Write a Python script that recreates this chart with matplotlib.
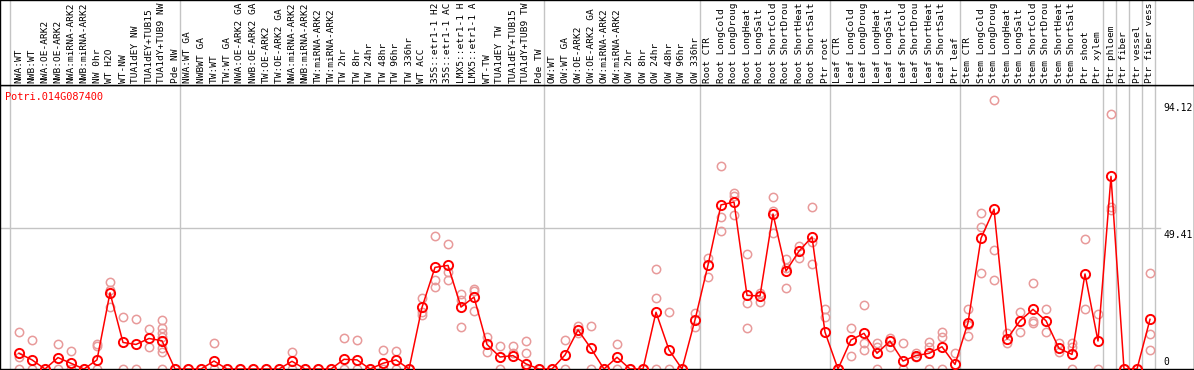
import matplotlib
matplotlib.use("Agg")
import matplotlib.pyplot as plt

title = "Potri.014G087400"

categories = [
    "NWA:WT", "NWB:WT", "NWA:OE-ARK2", "NWB:OE-ARK2", "NWA:miRNA-ARK2", "NWB:miRNA-ARK2",
    "NW 0hr", "WT H2O", "WT-NW", "TUA1dEY NW", "TUA1dEY+TUB15", "TUA1dY+TUB9 NW", "Pde NW",
    "NWA:WT GA", "NWBWT GA", "TW:WT", "TW:WT GA", "NWA:OE-ARK2 GA", "NWB:OE-ARK2 GA",
    "TW:OE-ARK2", "TW:OE-ARK2 GA", "NWA:miRNA-ARK2", "NWB:miRNA-ARK2", "TW:miRNA-ARK2",
    "TW:miRNA-ARK2", "TW 2hr", "TW 8hr", "TW 24hr", "TW 48hr", "TW 96hr", "TW 336hr",
    "WT ACC", "35S::etr1-1 H2O", "35S::etr1-1 ACC", "LMX5::etr1-1 H2O", "LMX5::etr1-1 ACC",
    "WT-TW", "TUA1dEY TW", "TUA1dEY+TUB15", "TUA1dY+TUB9 TW", "Pde TW",
    "OW:WT", "OW:WT GA", "OW:OE-ARK2", "OW:OE-ARK2 GA", "OW:miRNA-ARK2", "OW:miRNA-ARK2",
    "OW 2hr", "OW 8hr", "OW 24hr", "OW 48hr", "OW 96hr", "OW 336hr",
    "Root CTR", "Root LongCold", "Root LongDrought", "Root LongHeat", "Root LongSalt",
    "Root ShortCold", "Root ShortDrought", "Root ShortHeat", "Root ShortSalt", "Ptr root",
    "Leaf CTR", "Leaf LongCold", "Leaf LongDrought", "Leaf LongHeat", "Leaf LongSalt",
    "Leaf ShortCold", "Leaf ShortDrought", "Leaf ShortHeat", "Leaf ShortSalt", "Ptr leaf",
    "Stem CTR", "Stem LongCold", "Stem LongDrought", "Stem LongHeat", "Stem LongSalt",
    "Stem ShortCold", "Stem ShortDrought", "Stem ShortHeat", "Stem ShortSalt", "Ptr shoot",
    "Ptr xylem", "Ptr phloem", "Ptr fiber", "Ptr vessel", "Ptr fiber vessel",
]
label_max_chars = 14

# group sizes (vertical separators after each group)
group_sizes = [13, 28, 12, 10, 10, 11, 1, 1, 1, 1]

means = [
    5.5, 3.2, 0, 4.0, 2.0, 0, 3.2, 26.7, 9.3, 8.6, 10.7, 9.9, 0,
    0, 0, 2.8, 0, 0, 0, 0, 0, 2.7, 0, 0, 0, 3.4, 3.2, 0, 2.0, 3.2, 0,
    21.6, 35.6, 36.3, 21.7, 25.2, 8.6, 4.2, 4.7, 1.8, 0,
    0, 4.9, 13.7, 7.2, 0, 4.1, 0, 0, 19.9, 6.7, 0, 17.2,
    36.4, 57.5, 58.5, 25.8, 25.6, 54.3, 34.3, 41.3, 46.3, 12.9,
    0, 10.2, 12.5, 5.5, 9.8, 2.8, 4.7, 5.5, 7.8, 1.6,
    16.2, 45.8, 56.0, 10.5, 16.9, 20.9, 16.9, 7.2, 5.1, 33.3, 9.8,
    67.5, 0, 0, 17.4,
]

replicates = [
    [12.9, 4.3, 0], [10.2, 0], [0], [8.6, 0], [6.3, 0], [0], [8.7, 8.1, 0],
    [30.4, 27.7, 21.8], [18.1, 0], [17.4, 0], [13.9, 7.8],
    [17.2, 14.3, 12.5, 11.3, 7.5, 6.1, 0], [0],
    [0], [0], [9.0, 0], [0], [0], [0], [0], [0], [6.0, 0], [0], [0], [0],
    [10.9, 0], [10.0, 0], [0], [6.7, 0], [6.3, 0], [0],
    [24.8, 20.1, 18.9], [46.6, 31.2, 28.8], [43.7, 34.1, 31.2], [26.3, 24.2, 14.7],
    [28.0, 27.3, 20.3], [11.3, 6.1], [8.1, 0], [8.1, 5.5], [9.7, 5.5, 0], [0],
    [0], [10.0, 0], [15.2, 12.5], [15.1, 0], [0], [8.8, 0], [0], [0],
    [34.9, 24.8, 0], [19.9, 0], [0], [19.5, 14.8],
    [38.8, 32.1], [71.1, 53.2, 48.4], [61.6, 60.6, 54.0], [40.2, 23.0, 14.3],
    [26.7, 23.6], [60.2, 55.4, 47.5], [38.5, 35.5, 28.3], [43.1, 39.0],
    [56.7, 44.4, 36.7], [20.9, 18.3],
    [0], [14.3, 4.6], [22.4, 9.0, 6.7], [9.0, 7.8, 0], [10.7, 7.8], [9.0, 0],
    [5.5, 4.2], [9.6, 7.8, 0], [13.1, 11.1, 0], [5.7],
    [20.9, 15.4, 11.7], [54.6, 49.6, 33.5], [94.12, 41.6, 31.1], [12.5, 9.0],
    [19.9, 13.1], [30.1, 16.9, 16.0], [20.9, 12.8], [9.0, 6.1], [9.0, 7.8, 0],
    [45.4, 20.9], [19.2, 0],
    [89.2, 56.9, 55.7], [0], [0], [33.5, 12.2, 6.7],
]

ytick_values = [0, 49.41, 94.12]
ytick_labels = ["0", "49.41", "94.12"]

# ---------------------------------------------------------------
W, H = 1194, 370
fig = plt.figure(figsize=(W / 100, H / 100), dpi=100)

# pixel geometry
step = 13.0
x0_px = 19.0
label_bottom_px = 85.0
plot_bottom_px = 369.0
px_per_unit = 2.854

xmin = (0 - x0_px) / step
xmax = (W - x0_px) / step

ax = fig.add_axes([0, (H - plot_bottom_px) / H, 1, (plot_bottom_px - label_bottom_px) / H])
axl = fig.add_axes([0, (H - label_bottom_px) / H, 1, label_bottom_px / H])

for a in (ax, axl):
    a.set_xlim(xmin, xmax)
    a.set_xticks([])
    a.set_yticks([])
    for s in a.spines.values():
        s.set_color("black")
        s.set_linewidth(1.0)
ax.set_ylim(0, (plot_bottom_px - label_bottom_px) / px_per_unit)
axl.set_ylim(0, 1)

# vertical separators
seps = [-9.0 / step]
pos = 0
for g in group_sizes:
    pos += g
    seps.append(pos - 1 + 5.0 / step)
for a in (ax, axl):
    for s in seps:
        a.axvline(s, color="#c4c4c4", lw=1.0, zorder=0)

# horizontal gridline at middle tick, up to label column
grid_end = (1160 - x0_px) / step
ax.plot([xmin, grid_end], [ytick_values[1], ytick_values[1]], color="#c4c4c4", lw=1.0, zorder=0)

# right tick labels
lab_x = (1163 - x0_px) / step
for v, t in zip(ytick_values, ytick_labels):
    va = "bottom" if v == 0 else "top"
    yy = v + (0.6 if v == 0 else -0.8)
    ax.text(lab_x, yy, t, ha="left", va=va, fontsize=7.0,
            family="DejaVu Sans Mono", color="black", clip_on=True)

# category labels (truncated as in the rendered chart)
for i, c in enumerate(categories):
    axl.text(i, 2.0 / label_bottom_px, c[:label_max_chars], rotation=90, ha="center",
             va="bottom", fontsize=6.8, family="DejaVu Sans Mono", color="black")

# replicates
xs, ys = [], []
for i, reps in enumerate(replicates):
    for r in reps:
        xs.append(i)
        ys.append(r)
ax.plot(xs, ys, linestyle="none", marker="o", ms=6.0, mfc="none", mec="#e89a9a",
        mew=1.1, zorder=2, clip_on=True)

# mean line
ax.plot(range(len(means)), means, color="red", lw=1.1, marker="o", ms=6.6,
        mfc="none", mec="red", mew=1.4, zorder=3, clip_on=True)

# title
ax.text((5 - x0_px) / step, 1 - (12.0 / (plot_bottom_px - label_bottom_px)), title,
        transform=ax.get_xaxis_transform(), ha="left", va="center",
        fontsize=7.4, family="DejaVu Sans Mono", color="red")

fig.savefig("out.png", dpi=100)
